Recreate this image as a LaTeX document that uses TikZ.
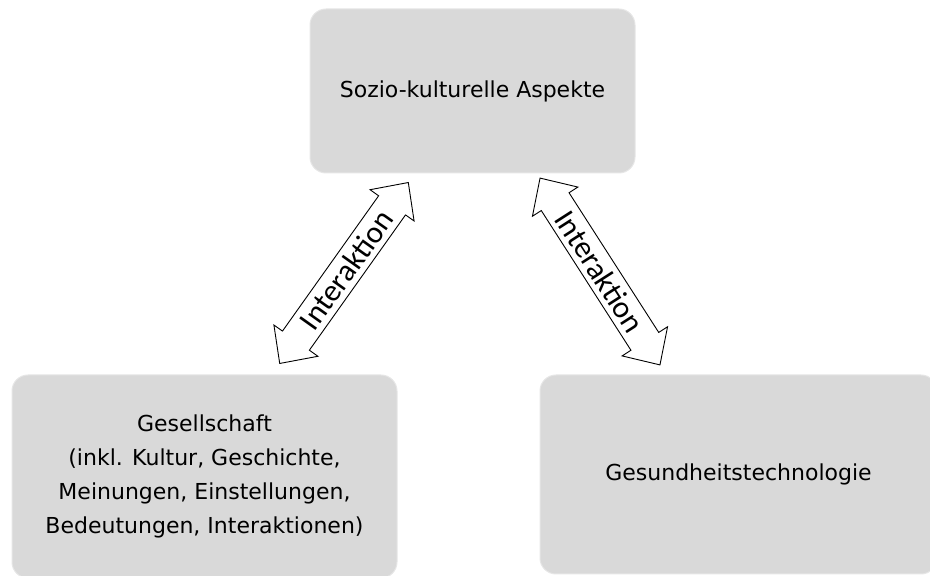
\documentclass[tikz,border=0pt]{standalone}
\usepackage{fontspec}
\setmainfont{DejaVu Sans}
\newfontfamily\arrowfont{Carlito}
\definecolor{boxgray}{HTML}{D9D9D9}
\definecolor{boxedge}{HTML}{E6E6E6}
\begin{document}
\begin{tikzpicture}[x=1pt,y=1pt,
  block/.style={draw=boxedge, line width=1pt, fill=boxgray, rounded corners=16pt,
    align=center, inner sep=0pt, font=\fontsize{22}{34}\selectfont},
  arrowbody/.style={draw=black, line width=0.9pt, fill=white, line join=miter},
  arrowtext/.style={font=\arrowfont\fontsize{31}{31}\selectfont, inner sep=0pt}]
\useasboundingbox (0,0) rectangle (930,576);

% the three blocks
\node[block, minimum width=325pt, minimum height=164pt] (socio) at (472.5,485)
  {Sozio-kulturelle Aspekte};
\node[block, minimum width=385pt, minimum height=203pt] (society) at (204.5,99.5)
  {Gesellschaft\\(inkl. Kultur, Geschichte,\\Meinungen, Einstellungen,\\Bedeutungen, Interaktionen)};
\node[block, minimum width=397pt, minimum height=199pt] (tech) at (738.5,101.5)
  {Gesundheitstechnologie};

% double-headed block arrow: half length 111, head length 28,
% shaft half width 16.5, head half width 27
\newcommand{\blockarrow}{%
  \draw[arrowbody] (-111,0) -- (-83,27) -- (-83,16.5) -- (83,16.5) -- (83,27)
    -- (111,0) -- (83,-27) -- (83,-16.5) -- (-83,-16.5) -- (-83,-27) -- cycle;}

\begin{scope}[shift={(344,303)}, rotate=54.6]
  \blockarrow
  \node[arrowtext, rotate=54.6] (leftlabel) at (4,0) {Interaktion};
\end{scope}

\begin{scope}[shift={(600,304.5)}, rotate=-57.3]
  \blockarrow
  \node[arrowtext, rotate=-57.3] (rightlabel) at (0,0) {Interaktion};
\end{scope}
\end{tikzpicture}
\end{document}
